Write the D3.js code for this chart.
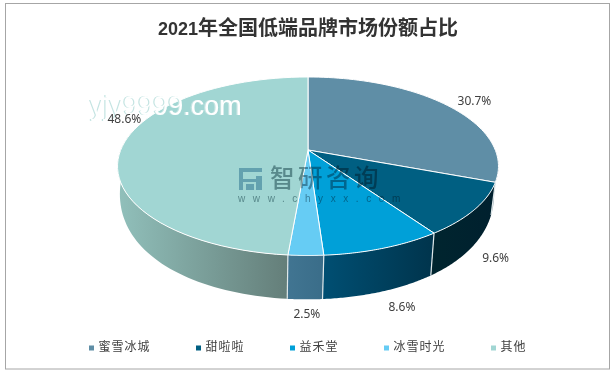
<!DOCTYPE html>
<html><head><meta charset="utf-8">
<script src="https://cdn.jsdelivr.net/npm/d3@7/dist/d3.min.js"></script>
<style>html,body{margin:0;padding:0;background:#fff}svg{display:block}</style></head>
<body><svg id="c" width="616" height="372"></svg>
<script>
const categories = ["蜜雪冰城","甜啦啦","益禾堂","冰雪时光","其他"];
const shares = [30.7,9.6,8.6,2.5,48.6];
const labels = ["30.7%","9.6%","8.6%","2.5%","48.6%"];
const topColors = ["#5f8ea6","#005f82","#00a0d8","#66ccf4","#a1d6d3"];
const wallFrom = ["#9aa9b0","#00252f","#004f73","#417592","#91c0bb"];
const wallTo = ["#7f939c","#00202e","#00344c","#3a6d89","#647e79"];

const svg = d3.select("#c");
const defs = svg.append("defs");
const pie = d3.pie().sort(null).startAngle(0).endAngle(2*Math.PI)(shares);

// perspective projection of the pie's disc
const cx = 308;
function topPt(t){const X=Math.sin(t),Y=-Math.cos(t),w=1-0.182*Y;return [cx+187.3*X/w,150+86.3*Y/w];}
function botPt(t){const X=Math.sin(t),Y=-Math.cos(t);return [cx-1+184*X/(1-0.182*Y),172+121*Y/(1-0.05*Y)];}
const line = d3.line();
const samples = (a,b)=>d3.range(0,61).map(i=>a+(b-a)*i/60);

// frame
svg.append("rect").attr("x",5.5).attr("y",3.5).attr("width",604).attr("height",365.5)
  .attr("fill","#fff").attr("stroke","#a6a6a6").attr("stroke-width",1);

// title
const title=svg.append("text").attr("x",308).attr("y",35).attr("text-anchor","middle")
  .attr("font-family","'Noto Sans CJK SC'").attr("font-weight",700).attr("font-size",20)
  .attr("fill","#333");
title.append("tspan").attr("font-family","'Liberation Sans'").attr("font-size",18).text("2021");
title.append("tspan").text("年全国低端品牌市场份额占比");

// walls: only the angular part facing the viewer
const vis0 = Math.PI/2, vis1 = Math.PI*1.58;
pie.forEach((d,i)=>{
  const a=Math.max(d.startAngle,vis0), b=Math.min(d.endAngle,vis1);
  if(a>=b) return;
  const ts=samples(a,b);
  const pts=ts.map(topPt).concat(ts.slice().reverse().map(botPt));
  const xs=d3.extent(pts,p=>p[0]);
  const g=defs.append("linearGradient").attr("id","w"+i).attr("gradientUnits","userSpaceOnUse")
    .attr("x1",xs[0]).attr("x2",xs[1]).attr("y1",0).attr("y2",0);
  g.append("stop").attr("offset",0).attr("stop-color",wallFrom[i]);
  g.append("stop").attr("offset",1).attr("stop-color",wallTo[i]);
  svg.append("path").attr("d",line(pts)+"Z").attr("fill",`url(#w${i})`);
});
// light seams at the slice edges
pie.forEach(d=>{
  const t=d.endAngle;
  if(t>vis0 && t<vis1) svg.append("path").attr("d",line([topPt(t),botPt(t)]))
    .attr("stroke","#dfe8ea").attr("stroke-width",1.2).attr("fill","none");
});

// top face
pie.forEach((d,i)=>{
  const pts=[[cx,150]].concat(samples(d.startAngle,d.endAngle).map(topPt));
  svg.append("path").attr("d",line(pts)+"Z").attr("fill",topColors[i])
    .attr("stroke","#fff").attr("stroke-width",1).attr("stroke-linejoin","round");
});

// watermark logo + text
const wm=svg.append("g").style("mix-blend-mode","multiply");
wm.append("path").attr("d","M239 168H262V172H243V179H256V176H262V190H256V182H243V190H239Z M246 184H254V190H246Z")
  .attr("fill","#9cc0d4");
wm.append("text").attr("x",270).attr("y",187).attr("font-family","'Noto Sans CJK SC'")
  .attr("font-size",24.5).attr("letter-spacing",3.5).attr("font-weight",500).attr("fill","#8ba3a8").text("智研咨询");
wm.append("text").attr("x",238).attr("y",202).attr("font-family","'Liberation Sans'")
  .attr("font-size",10).attr("letter-spacing",7.6).attr("fill","#8ba3a8").text("www.chyxx.com");

// site overlay
svg.append("text").attr("x",90.2).attr("y",115).attr("font-family","'Liberation Sans'").attr("font-size",27)
  .attr("fill","#fff").style("text-shadow","-1.2px 0 0 #c4e4e2").text("yjy9999.com");

// data labels: anchored on each slice's mid-angle, on the rim they belong to
const labelOffset=[[27,0],[25,13.5],[21,19],[2,19],[2,-23.6]];
const labelRim=[topPt,botPt,botPt,botPt,topPt];
svg.append("g").selectAll("text").data(pie).join("text")
  .each(function(d,i){
    const p=labelRim[i]((d.startAngle+d.endAngle)/2);
    d3.select(this).attr("x",p[0]+labelOffset[i][0]).attr("y",p[1]+labelOffset[i][1]);
  })
  .attr("text-anchor","middle")
  .attr("font-family","'Noto Sans'").attr("font-size",12).attr("fill","#404040").text((d,i)=>labels[i]);

// legend
let lx=89;
categories.forEach((c,i)=>{
  const n=[...c].length;
  svg.append("rect").attr("x",lx).attr("y",345.5).attr("width",5).attr("height",5).attr("fill",topColors[i]);
  svg.append("text").attr("x",lx+9.5).attr("y",351).attr("font-family","'Noto Sans CJK SC'")
    .attr("font-size",12).attr("letter-spacing",1).attr("fill","#404040").text(c);
  lx+=13*n+55;
});
</script></body></html>
